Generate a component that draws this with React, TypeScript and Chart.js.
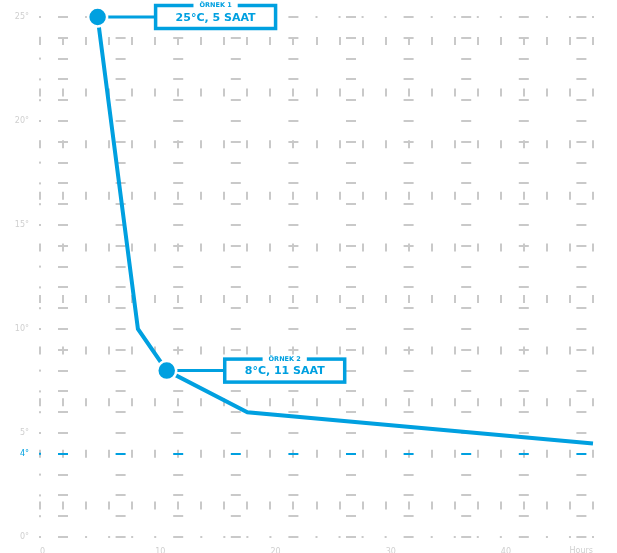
import React, { useEffect, useRef } from 'react';
import { Chart, registerables } from 'chart.js';

Chart.register(...registerables);

// ---- data ----
const hours = [5, 8.5, 11, 18, 48];
const temps = [25, 10, 8, 6, 4.5];
const calloutIndices = [0, 2];
const calloutTitles = ['ÖRNEK 1', 'ÖRNEK 2'];
const calloutTexts = ['25°C, 5 SAAT', '8°C, 11 SAAT'];
const xLabelValues = [0, 10, 20, 30, 40];
const yLabelValues = [0, 5, 10, 15, 20, 25, 4];
const xEndLabel = 'Hours';
const highlightTemp = 4;

const BLUE = '#00a0e0';
const GRID = '#c9c9c9';
const LABEL = '#cfcfcf';
const FONT = 'DejaVu Sans';

const dotsPlugin = {
  id: 'axisDots',
  beforeDatasetsDraw(chart: any) {
    const { ctx, chartArea, scales } = chart;
    ctx.save();
    ctx.fillStyle = GRID;
    scales.x.ticks.forEach((t: any) => {
      const px = scales.x.getPixelForValue(t.value);
      ctx.fillRect(px - 1, chartArea.top - 1, 2, 2);
      ctx.fillRect(px - 1, chartArea.bottom - 1, 2, 2);
    });
    scales.y.ticks.forEach((t: any) => {
      const py = scales.y.getPixelForValue(t.value);
      ctx.fillStyle = t.value === highlightTemp ? BLUE : GRID;
      ctx.fillRect(chartArea.left - 1, py - 1, 2, 2);
    });
    ctx.restore();
  },
};

const calloutPlugin = {
  id: 'callouts',
  beforeDatasetsDraw(chart: any) {
    const { ctx } = chart;
    const meta = chart.getDatasetMeta(0);
    ctx.save();
    ctx.strokeStyle = BLUE;
    ctx.lineWidth = 3;
    calloutIndices.forEach((idx) => {
      const pt = meta.data[idx];
      ctx.beginPath();
      ctx.moveTo(pt.x, pt.y);
      ctx.lineTo(pt.x + 60, pt.y);
      ctx.stroke();
    });
    ctx.restore();
  },
  afterDatasetsDraw(chart: any) {
    const { ctx } = chart;
    const meta = chart.getDatasetMeta(0);
    ctx.save();
    calloutIndices.forEach((idx, i) => {
      const pt = meta.data[idx];
      ctx.font = `bold 11px "${FONT}"`;
      const tw = ctx.measureText(calloutTexts[i]).width;
      const w = tw + 40;
      const h = 23;
      const left = pt.x + 58;
      const top = pt.y - h / 2;
      ctx.fillStyle = '#fff';
      ctx.fillRect(left, top, w, h);
      ctx.strokeStyle = BLUE;
      ctx.lineWidth = 3.5;
      ctx.strokeRect(left, top, w, h);
      ctx.fillStyle = BLUE;
      ctx.textAlign = 'center';
      ctx.textBaseline = 'middle';
      const cx = left + w / 2;
      ctx.fillText(calloutTexts[i], cx, pt.y + 1);
      ctx.font = `bold 6.5px "${FONT}"`;
      const tw2 = ctx.measureText(calloutTitles[i]).width;
      ctx.fillStyle = '#fff';
      ctx.fillRect(cx - tw2 / 2 - 6, top - 3, tw2 + 12, 6);
      ctx.fillStyle = BLUE;
      ctx.fillText(calloutTitles[i], cx, top);
    });
    ctx.restore();
  },
};

const endLabelPlugin = {
  id: 'endLabel',
  afterDraw(chart: any) {
    const { ctx, chartArea, scales } = chart;
    ctx.save();
    ctx.font = `8px "${FONT}"`;
    ctx.fillStyle = LABEL;
    ctx.textAlign = 'right';
    ctx.textBaseline = 'top';
    ctx.fillText(xEndLabel, chartArea.right, scales.x.top + 10);
    ctx.restore();
  },
};

export default function App() {
  const ref = useRef<HTMLCanvasElement | null>(null);

  useEffect(() => {
    if (!ref.current) return;
    const chart = new Chart(ref.current, {
      type: 'line',
      data: {
        datasets: [
          {
            data: hours.map((h, i) => ({ x: h, y: temps[i] })),
            borderColor: BLUE,
            borderWidth: 4,
            tension: 0,
            fill: false,
            clip: false,
            pointRadius: (c: any) => (calloutIndices.includes(c.dataIndex) ? 9.5 : 0),
            pointHoverRadius: (c: any) => (calloutIndices.includes(c.dataIndex) ? 9.5 : 0),
            pointBackgroundColor: BLUE,
            pointBorderColor: '#ffffff',
            pointBorderWidth: 2.5,
          },
        ],
      },
      options: {
        animation: false,
        responsive: true,
        maintainAspectRatio: false,
        layout: { padding: { top: 17, right: 24, bottom: 0, left: 0 } },
        plugins: { legend: { display: false }, tooltip: { enabled: false } },
        scales: {
          x: {
            type: 'linear',
            min: 0,
            max: 48,
            afterFit: (s: any) => {
              s.height = 16;
            },
            ticks: {
              stepSize: 2,
              autoSkip: false,
              maxRotation: 0,
              align: 'start',
              padding: 10,
              color: LABEL,
              font: { family: FONT, size: 8 },
              callback: (v: any) => (xLabelValues.includes(Number(v)) ? String(v) : ''),
            },
            grid: { color: GRID, lineWidth: 2, drawTicks: false },
            border: { display: false, dash: [8, 43.6], dashOffset: 31.6 },
          },
          y: {
            min: 0,
            max: 25,
            afterFit: (s: any) => {
              s.width = 40;
            },
            ticks: {
              stepSize: 1,
              autoSkip: false,
              padding: 11,
              color: (c: any) => (c.tick && c.tick.value === highlightTemp ? BLUE : LABEL),
              font: { family: FONT, size: 8 },
              callback: (v: any) => (yLabelValues.includes(Number(v)) ? `${v}°` : ''),
            },
            grid: {
              color: (c: any) => (c.tick && c.tick.value === highlightTemp ? BLUE : GRID),
              lineWidth: 2,
              drawTicks: false,
            },
            border: { display: false, dash: [10, 47.6], dashOffset: 39.6 },
          },
        },
      },
      plugins: [dotsPlugin, calloutPlugin, endLabelPlugin],
    } as any);
    return () => chart.destroy();
  }, []);

  return (
    <div style={{ position: 'fixed', left: 0, top: 0, width: 617, height: 553 }}>
      <canvas ref={ref} />
    </div>
  );
}
